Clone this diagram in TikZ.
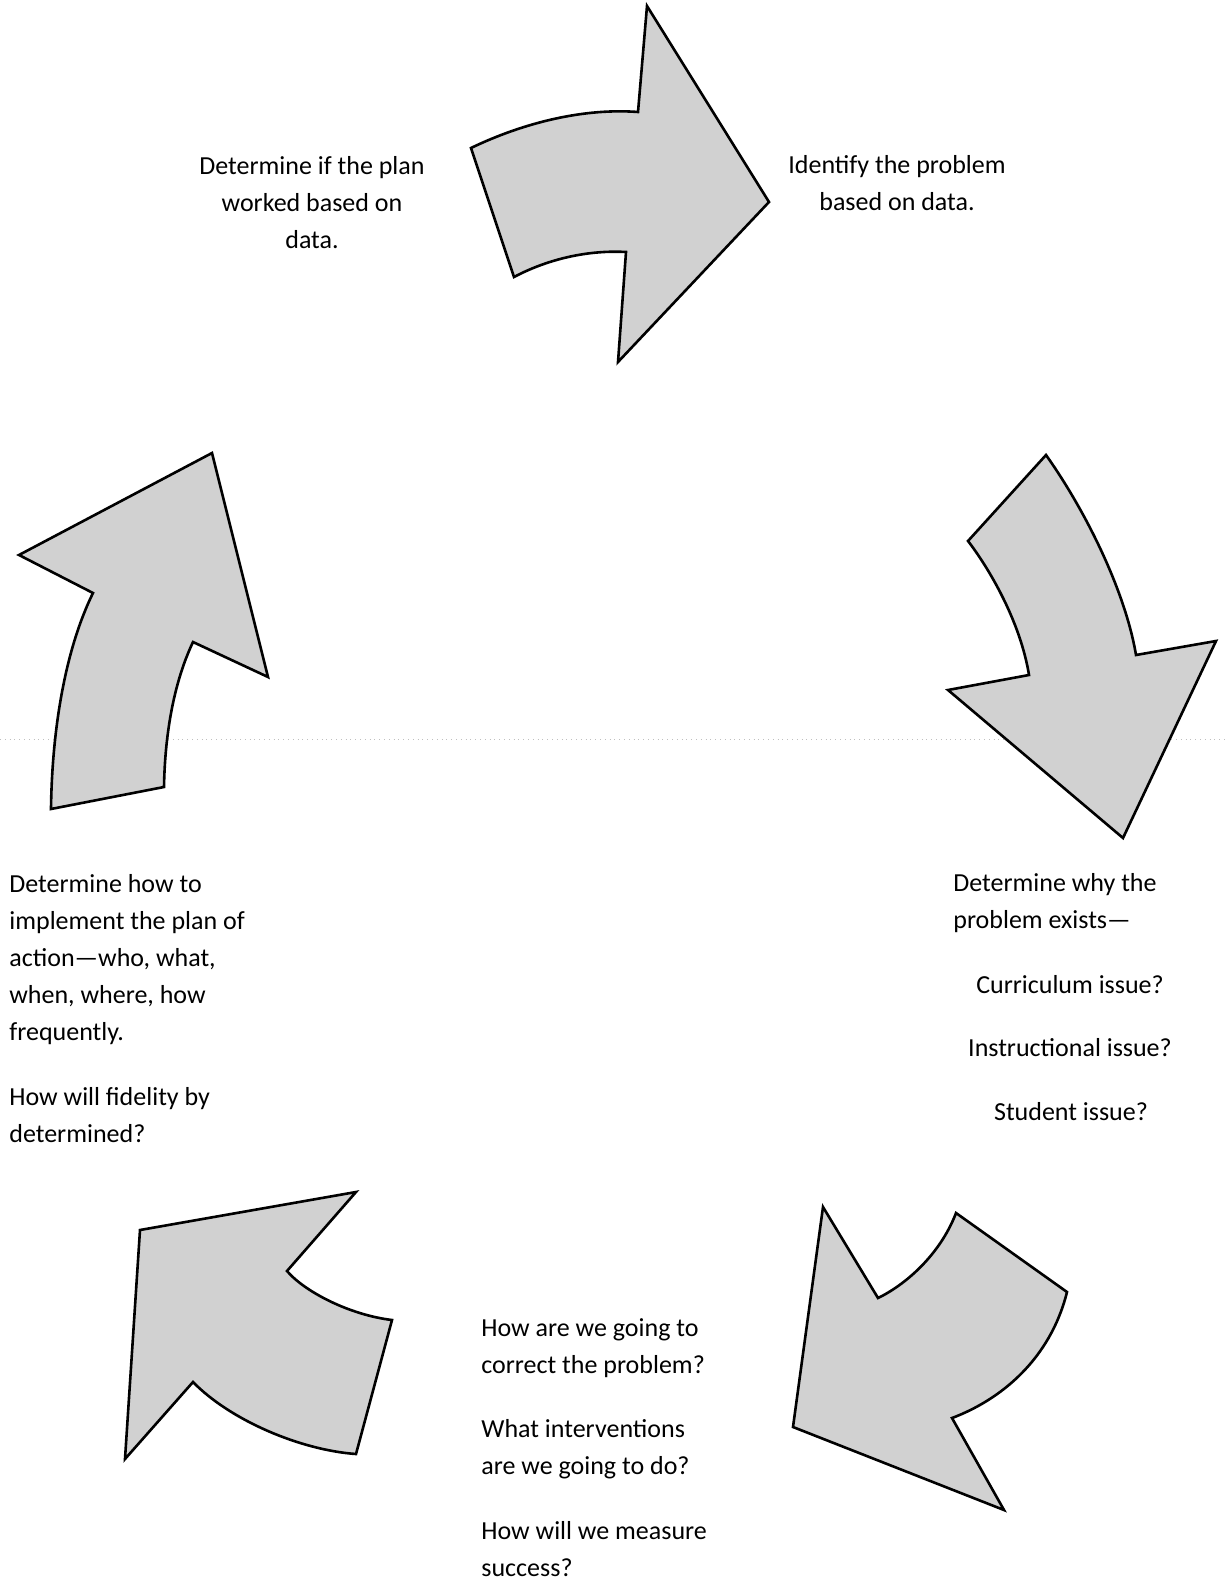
\documentclass[tikz,border=0pt]{standalone}
\usepackage{fontspec}
\setmainfont{Carlito}
\usepackage{tikz}
\tikzstyle{bigarrow}=[draw=black, line width=1.3pt, line join=miter, fill=black!18]
\tikzstyle{txt}=[inner sep=0pt, font=\fontsize{13}{18.5}\selectfont]

\begin{document}
\begin{tikzpicture}[x=0.5pt, y=-0.5pt]
	\useasboundingbox (0,0) rectangle (1225,1583);
	\begin{scope}
		% faint scan line
		\draw[black!25, dotted, line width=0.4pt] (0,739) -- (1225,739);
		% top
		\draw[bigarrow] (471,148) .. controls (525,122) and (585,108) .. (638,112) -- (647,6) -- (769,202) -- (618,362) -- (626,252) .. controls (590,250) and (550,258) .. (514,277) -- cycle;
		% right
		\draw[bigarrow] (1046,455) -- (968,541) .. controls (988,567) and (1020,620) .. (1029,675) -- (948,690) -- (1123,838) -- (1216,641) -- (1136,655) .. controls (1125,590) and (1085,510) .. (1046,455) -- cycle;
		% bottom right
		\draw[bigarrow] (823,1207) -- (878,1298) .. controls (905,1285) and (940,1255) .. (956,1213) -- (1067,1292) .. controls (1050,1360) and (1000,1400) .. (952,1418) -- (1004,1510) -- (793,1427) -- cycle;
		% bottom left
		\draw[bigarrow] (140,1230) -- (356,1192) -- (287,1271) .. controls (305,1292) and (350,1315) .. (392,1320) -- (356,1454) .. controls (300,1450) and (230,1420) .. (193,1382) -- (125,1459) -- cycle;
		% left
		\draw[bigarrow] (51,809) -- (164,787) .. controls (165,730) and (175,680) .. (193,642) -- (268,677) -- (212,453) -- (19,555) -- (93,593) .. controls (65,650) and (52,730) .. (51,809) -- cycle;
	\end{scope}
	\begin{scope}
		% base = baseline of the last line
		\node (0) at (312,249)[txt, anchor=base, align=center] {Determine if the plan\\worked based on\\data.};
		\node (1) at (897,211)[txt, anchor=base, align=center] {Identify the problem\\based on data.};
		\node (2) at (953,928)[txt, anchor=base west, align=left] {Determine why the\\problem exists—};
		\node (3) at (1070,993)[txt, anchor=base] {Curriculum issue?};
		\node (4) at (1070,1056)[txt, anchor=base] {Instructional issue?};
		\node (5) at (1071,1120)[txt, anchor=base] {Student issue?};
		\node (6) at (9,1040)[txt, anchor=base west, align=left] {Determine how to\\implement the plan of\\action—who, what,\\when, where, how\\frequently.};
		\node (7) at (9,1142)[txt, anchor=base west, align=left] {How will fidelity by\\determined?};
		\node (8) at (481,1373)[txt, anchor=base west, align=left] {How are we going to\\correct the problem?};
		\node (9) at (481,1474)[txt, anchor=base west, align=left] {What interventions\\are we going to do?};
		\node (10) at (481,1576)[txt, anchor=base west, align=left] {How will we measure\\success?};
	\end{scope}
\end{tikzpicture}
\end{document}
